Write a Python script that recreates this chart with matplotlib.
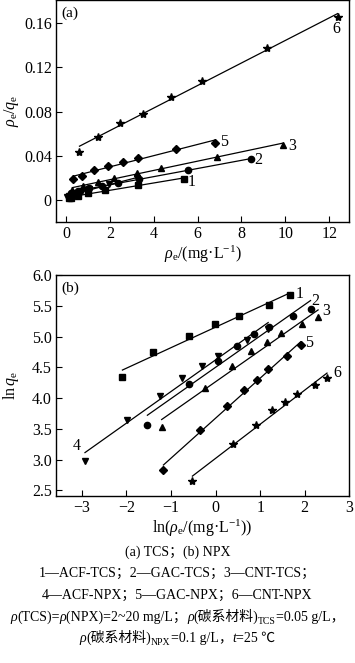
import numpy as np
import matplotlib
matplotlib.use('Agg')
import matplotlib.pyplot as plt
from matplotlib.ticker import FuncFormatter

plt.rcParams['font.family'] = ['Liberation Serif', 'Noto Sans CJK SC']
plt.rcParams['mathtext.fontset'] = 'custom'
plt.rcParams['mathtext.rm'] = 'Liberation Serif'
plt.rcParams['mathtext.it'] = 'Liberation Serif:italic'

# (a) Langmuir: rho_e vs rho_e/q_e, series 1..6
a_x1 = [0.12, 0.24, 0.55, 1.00, 1.76, 3.30, 5.36]
a_y1 = [0.0016, 0.0021, 0.0037, 0.0062, 0.0091, 0.0136, 0.0190]
a_x2 = [0.22, 0.55, 1.05, 1.63, 2.36, 3.35, 5.56, 8.42]
a_y2 = [0.0061, 0.0080, 0.0106, 0.0128, 0.0153, 0.0190, 0.0272, 0.0368]
a_x3 = [0.30, 0.80, 1.45, 2.20, 3.22, 4.34, 6.88, 9.90]
a_y3 = [0.0090, 0.0130, 0.0163, 0.0195, 0.0248, 0.0293, 0.0393, 0.0501]
a_x4 = [0.05, 0.14, 0.29, 0.47, 0.73, 1.06, 1.95, 3.25]
a_y4 = [0.0027, 0.0036, 0.0051, 0.0062, 0.0080, 0.0098, 0.0142, 0.0195]
a_x5 = [0.33, 0.73, 1.28, 1.90, 2.58, 3.28, 5.01, 6.78]
a_y5 = [0.0185, 0.0220, 0.0272, 0.0311, 0.0347, 0.0378, 0.0459, 0.0519]
a_x6 = [0.62, 1.46, 2.48, 3.51, 4.80, 6.18, 9.16, 12.38]
a_y6 = [0.0438, 0.0574, 0.0700, 0.0779, 0.0933, 0.1075, 0.1374, 0.1655]

# (b) Freundlich: ln rho_e vs ln q_e
b_x1 = [-2.09, -1.41, -0.59, -0.01, 0.53, 1.20, 1.68]
b_y1 = [4.35, 4.75, 5.01, 5.20, 5.33, 5.52, 5.68]
b_x2 = [-1.53, -0.60, 0.05, 0.49, 0.86, 1.20, 1.73, 2.13]
b_y2 = [3.57, 4.23, 4.60, 4.85, 5.04, 5.15, 5.33, 5.44]
b_x3 = [-1.21, -0.24, 0.36, 0.79, 1.16, 1.46, 1.93, 2.30]
b_y3 = [3.53, 4.17, 4.52, 4.76, 4.91, 5.05, 5.20, 5.31]
b_x4 = [-2.93, -1.98, -1.25, -0.76, -0.31, 0.06, 0.70, 1.18]
b_y4 = [2.98, 3.65, 4.03, 4.32, 4.52, 4.69, 4.94, 5.12]
b_x5 = [-1.17, -0.35, 0.25, 0.64, 0.94, 1.18, 1.61, 1.91]
b_y5 = [2.84, 3.49, 3.87, 4.13, 4.30, 4.47, 4.68, 4.87]
b_x6 = [-0.52, 0.38, 0.91, 1.26, 1.56, 1.82, 2.23, 2.50]
b_y6 = [2.65, 3.25, 3.56, 3.80, 3.94, 4.06, 4.21, 4.32]

series_a = [(a_x1, a_y1), (a_x2, a_y2), (a_x3, a_y3), (a_x4, a_y4), (a_x5, a_y5), (a_x6, a_y6)]
series_b = [(b_x1, b_y1), (b_x2, b_y2), (b_x3, b_y3), (b_x4, b_y4), (b_x5, b_y5), (b_x6, b_y6)]
markers = ['s', 'o', '^', 'v', 'D', '*']
msizes = [4, 4.5, 4.5, 4.5, 4, 6]

W, H = 355, 663
fig = plt.figure(figsize=(W / 100, H / 100), dpi=100)
ax_a = fig.add_axes([56 / W, 1 - 222 / H, 293 / W, 222 / H])
ax_b = fig.add_axes([56 / W, 1 - 496 / H, 293.3 / W, 221 / H])


def draw_panel(ax, series):
    for (x, y), m, ms in zip(series, markers, msizes):
        x = np.array(x)
        y = np.array(y)
        k, b = np.polyfit(x, y, 1)
        xl = np.array([x.min(), x.max()])
        ax.plot(xl, k * xl + b, color='black', lw=0.9)
        ax.plot(x, y, ls='none', marker=m, ms=ms, color='black', mec='black')
    ax.tick_params(direction='in', length=4, width=0.8, labelsize=11.5, pad=3)
    for sp in ax.spines.values():
        sp.set_linewidth(1.0)


draw_panel(ax_a, series_a)
ax_a.set_xlim(-0.45, 12.9)
ax_a.set_ylim(-0.02, 0.181)
ax_a.set_xticks([0, 2, 4, 6, 8, 10, 12])
ax_a.set_yticks([0, 0.04, 0.08, 0.12, 0.16])
ax_a.yaxis.set_major_formatter(FuncFormatter(lambda v, p: f'{v:g}'))
ax_a.set_xlabel(r'$\rho_{\rm e}$/(mg·L$^{-1}$)', fontsize=11.5)
ax_a.set_ylabel(r'$\rho_{\rm e}/q_{\rm e}$', fontsize=11.5)
ax_a.xaxis.set_label_coords(0.5, -0.1)
ax_a.yaxis.set_label_coords(-0.12, 0.5)
ax_a.text(0.02, 0.97, '(a)', transform=ax_a.transAxes, fontsize=11, va='top', ha='left')
for s, (lx, ly) in zip(['1', '2', '3', '5', '6'],
                       [(5.74, 0.0166), (8.78, 0.0362), (10.3, 0.0492), (7.21, 0.0528), (12.32, 0.1546)]):
    ax_a.text(lx, ly, s, fontsize=11.5, ha='center', va='center')

draw_panel(ax_b, series_b)
ax_b.set_xlim(-3.58, 3.0)
ax_b.set_ylim(2.41, 6.0)
ax_b.set_xticks([-3, -2, -1, 0, 1, 2, 3])
ax_b.set_yticks([2.5, 3.0, 3.5, 4.0, 4.5, 5.0, 5.5, 6.0])
ax_b.set_xlabel(r'ln($\rho_{\rm e}$/(mg·L$^{-1}$))', fontsize=11.5)
ax_b.set_ylabel(r'ln$\,q_{\rm e}$', fontsize=11.5)
ax_b.xaxis.set_label_coords(0.5, -0.1)
ax_b.yaxis.set_label_coords(-0.12, 0.5)
ax_b.text(0.02, 0.97, '(b)', transform=ax_b.transAxes, fontsize=11, va='top', ha='left')
for s, (lx, ly) in zip(['1', '2', '3', '4', '5', '6'],
                       [(1.89, 5.69), (2.23, 5.58), (2.49, 5.42), (-3.11, 3.22), (2.10, 4.90), (2.72, 4.40)]):
    ax_b.text(lx, ly, s, fontsize=11.5, ha='center', va='center')

# caption below the panels, laid out run by run so subscripts fit
renderer = fig.canvas.get_renderer()


def put_runs(y_px, runs, size=10):
    texts = []
    for s, kind in runs:
        kw = dict(fontsize=size, va='baseline', ha='left')
        dy = 0
        if kind == 'it':
            kw['style'] = 'italic'
        elif kind == 'sub':
            kw['fontsize'] = size * 0.7
            dy = 3
        texts.append((fig.text(0, 0, s, **kw), dy))
    widths = [t.get_window_extent(renderer).width for t, _ in texts]
    x = (W - sum(widths)) / 2
    for (t, dy), w in zip(texts, widths):
        t.set_position((x / W, 1 - (y_px + dy) / H))
        x += w


put_runs(556, [('(a) TCS；(b) NPX', 'rm')])
put_runs(577, [('1—ACF-TCS；2—GAC-TCS；3—CNT-TCS；', 'rm')])
put_runs(599, [('4—ACF-NPX；5—GAC-NPX；6—CNT-NPX', 'rm')])
put_runs(621, [('ρ', 'it'), ('(TCS)=', 'rm'), ('ρ', 'it'), ('(NPX)=2~20 mg/L；', 'rm'),
               ('ρ', 'it'), ('(碳系材料)', 'rm'), ('TCS', 'sub'), ('=0.05 g/L，', 'rm')])
put_runs(642, [('ρ', 'it'), ('(碳系材料)', 'rm'), ('NPX', 'sub'), ('=0.1 g/L，', 'rm'),
               ('t', 'it'), ('=25 ℃', 'rm')])

fig.savefig('out.png', dpi=100)
